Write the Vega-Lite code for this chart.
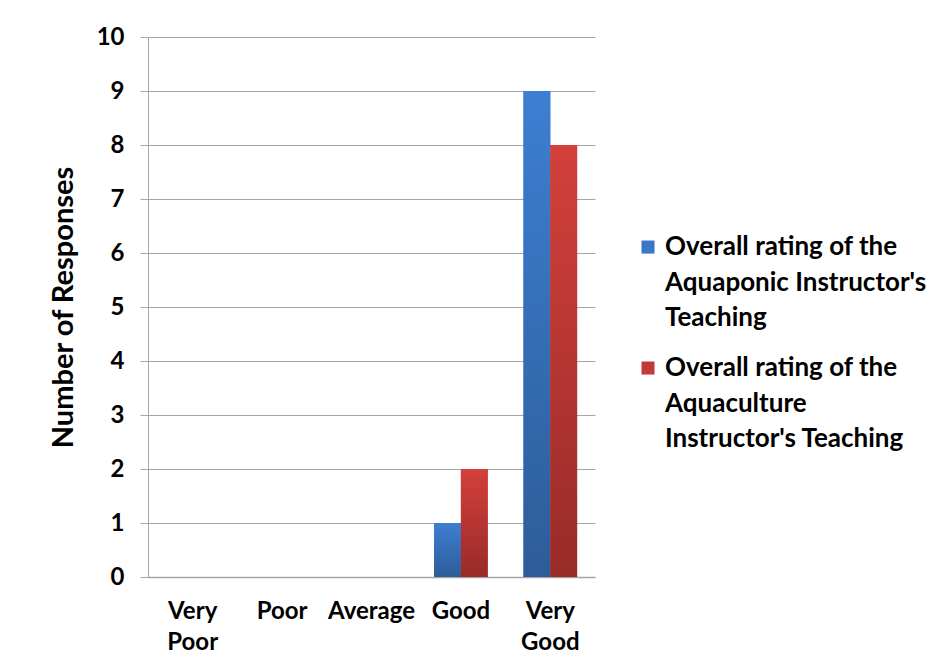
{
  "$schema": "https://vega.github.io/schema/vega-lite/v6.json",
  "width": 447,
  "height": 540,
  "autosize": {"type": "none"},
  "padding": {"left": 148, "top": 37, "right": 357, "bottom": 95},
  "background": "white",
  "data": {
    "values": [
      {"rating": "Very Poor", "series": "Aquaponic", "responses": 0},
      {"rating": "Very Poor", "series": "Aquaculture", "responses": 0},
      {"rating": "Poor", "series": "Aquaponic", "responses": 0},
      {"rating": "Poor", "series": "Aquaculture", "responses": 0},
      {"rating": "Average", "series": "Aquaponic", "responses": 0},
      {"rating": "Average", "series": "Aquaculture", "responses": 0},
      {"rating": "Good", "series": "Aquaponic", "responses": 1},
      {"rating": "Good", "series": "Aquaculture", "responses": 2},
      {"rating": "Very Good", "series": "Aquaponic", "responses": 9},
      {"rating": "Very Good", "series": "Aquaculture", "responses": 8}
    ]
  },
  "encoding": {
    "x": {
      "field": "rating",
      "type": "nominal",
      "sort": ["Very Poor", "Poor", "Average", "Good", "Very Good"],
      "scale": {"paddingInner": 0.4, "paddingOuter": 0.2},
      "axis": {
        "title": null,
        "labelAngle": 0,
        "labelExpr": "split(datum.label, ' ')",
        "labelLineHeight": 31,
        "labelBaseline": "top",
        "labelPadding": 22,
        "labelFontSize": 24,
        "ticks": false,
        "grid": false,
        "domainColor": "#a6a6a6",
        "domainWidth": 1.5
      }
    },
    "xOffset": {
      "field": "series",
      "type": "nominal",
      "sort": ["Aquaponic", "Aquaculture"],
      "scale": {"paddingInner": 0, "paddingOuter": 0}
    },
    "y": {
      "field": "responses",
      "type": "quantitative",
      "scale": {"domain": [0, 10], "nice": false},
      "axis": {
        "title": "Number of Responses",
        "values": [0, 1, 2, 3, 4, 5, 6, 7, 8, 9, 10],
        "labelOverlap": false,
        "grid": true,
        "gridColor": "#a6a6a6",
        "gridWidth": 1.2,
        "tickColor": "#a6a6a6",
        "tickSize": 8,
        "domainColor": "#a6a6a6",
        "labelFontSize": 24,
        "labelPadding": 16,
        "titlePadding": 18,
        "titleFontSize": 29
      }
    }
  },
  "layer": [
    {
      "mark": {"type": "bar"},
      "encoding": {
        "color": {
          "field": "series",
          "type": "nominal",
          "sort": ["Aquaponic", "Aquaculture"],
          "scale": {"domain": ["Aquaponic", "Aquaculture"], "range": ["#3a77c6", "#c23a36"]},
          "legend": {
            "title": null,
            "orient": "none",
            "legendX": 487,
            "legendY": 184,
            "symbolType": "M-1,1H1V3H-1Z",
            "symbolSize": 170,
            "symbolStrokeWidth": 0,
            "labelLimit": 0,
            "labelOffset": 4,
            "rowPadding": 11,
            "labelExpr": "datum.label == 'Aquaponic' ? ['Overall rating of the', 'Aquaponic Instructor\\'s', 'Teaching'] : ['Overall rating of the', 'Aquaculture', 'Instructor\\'s Teaching']"
          }
        }
      }
    },
    {
      "transform": [{"filter": "datum.series == 'Aquaponic'"}],
      "mark": {
        "type": "bar",
        "color": {
          "gradient": "linear",
          "x1": 0, "y1": 0, "x2": 0, "y2": 1,
          "stops": [
            {"offset": 0, "color": "#3d7fd2"},
            {"offset": 1, "color": "#2d5c99"}
          ]
        }
      }
    },
    {
      "transform": [{"filter": "datum.series == 'Aquaculture'"}],
      "mark": {
        "type": "bar",
        "color": {
          "gradient": "linear",
          "x1": 0, "y1": 0, "x2": 0, "y2": 1,
          "stops": [
            {"offset": 0, "color": "#d3403b"},
            {"offset": 1, "color": "#982b29"}
          ]
        }
      }
    }
  ],
  "config": {
    "view": {"stroke": null},
    "font": "Lato",
    "axis": {
      "labelFont": "Lato",
      "labelFontWeight": "bold",
      "labelColor": "#000000",
      "titleFont": "Lato",
      "titleFontWeight": "bold",
      "titleColor": "#000000"
    },
    "legend": {
      "labelFont": "Lato",
      "labelFontWeight": "bold",
      "labelFontSize": 26,
      "labelColor": "#000000",
      "labelBaseline": "top"
    },
    "style": {
      "guide-label": {"lineHeight": 35.5}
    }
  }
}
